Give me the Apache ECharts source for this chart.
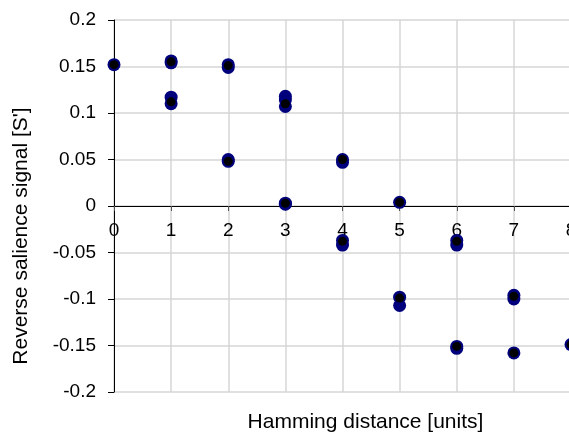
<!DOCTYPE html>
<html>
<head>
<meta charset="utf-8">
<script src="https://cdn.jsdelivr.net/npm/echarts@6/dist/echarts.min.js"></script>
<style>
  html, body { margin: 0; padding: 0; background: #fff; }
  #chart { width: 569px; height: 437px; }
</style>
</head>
<body>
<div id="chart"></div>
<script>
// individual readings (navy) and the black marker per cluster
const hamming = [0, 1, 1, 1, 1, 2, 2, 2, 2, 3, 3, 3, 3, 3, 4, 4, 4, 4, 5, 5, 5, 6, 6, 6, 6, 7, 7, 7, 8]
const salience = [0.152, 0.154, 0.156, 0.117, 0.110, 0.152, 0.149, 0.050, 0.048, 0.118, 0.114, 0.107, 0.003, 0.002,
  0.050, 0.047, -0.037, -0.042, 0.004, -0.098, -0.107, -0.037, -0.042, -0.151, -0.153, -0.096, -0.100, -0.158, -0.149]

const meanX = [0, 1, 1, 2, 2, 3, 3, 4, 4, 5, 5, 6, 6, 7, 7, 8]
const meanY = [0.152, 0.155, 0.112, 0.151, 0.048, 0.110, 0.003, 0.050, -0.038, 0.004, -0.099, -0.038, -0.151, -0.097, -0.158, -0.149]

const chart = echarts.init(document.getElementById('chart'))

const font = 'Arial, "Liberation Sans", sans-serif'

chart.setOption({
  animation: false,
  grid: { left: 114, top: 20, width: 457, height: 372, containLabel: false, outerBoundsMode: 'none' },
  xAxis: {
    type: 'value',
    min: 0,
    max: 8,
    interval: 1,
    offset: -186, // x axis crosses at y = 0
    name: 'Hamming distance [units]',
    nameLocation: 'middle',
    nameGap: 206,
    nameTextStyle: { color: '#000', fontSize: 21, fontFamily: font, padding: [0, 0, 0, 46] },
    axisLine: { onZero: false, lineStyle: { color: '#000', width: 1 } },
    axisTick: { show: true, length: 5, lineStyle: { color: '#555' } },
    axisLabel: { color: '#000', fontSize: 19, fontFamily: font, margin: 15 },
    splitLine: { show: true, lineStyle: { color: '#d6d6d6', width: 1.5 } }
  },
  yAxis: {
    type: 'value',
    min: -0.2,
    max: 0.2,
    interval: 0.05,
    name: "Reverse salience signal [S']",
    nameLocation: 'middle',
    nameGap: 82,
    nameTextStyle: { color: '#000', fontSize: 21, fontFamily: font, padding: [0, 60, 0, 0] },
    axisLine: { show: true, onZero: false, lineStyle: { color: '#000', width: 1 } },
    axisTick: { show: true, length: 6, lineStyle: { color: '#000' } },
    axisLabel: { color: '#000', fontSize: 19, fontFamily: font, margin: 18 },
    splitLine: { show: true, lineStyle: { color: '#d6d6d6', width: 1.5 } }
  },
  series: [
    {
      type: 'scatter',
      data: hamming.map((h, i) => [h, salience[i]]),
      symbolSize: 13,
      itemStyle: { color: '#00007c', opacity: 1 },
      clip: false
    },
    {
      type: 'scatter',
      data: meanX.map((h, i) => [h, meanY[i]]),
      symbolSize: 9,
      itemStyle: { color: '#000', opacity: 1 },
      clip: false
    }
  ]
})
</script>
</body>
</html>
